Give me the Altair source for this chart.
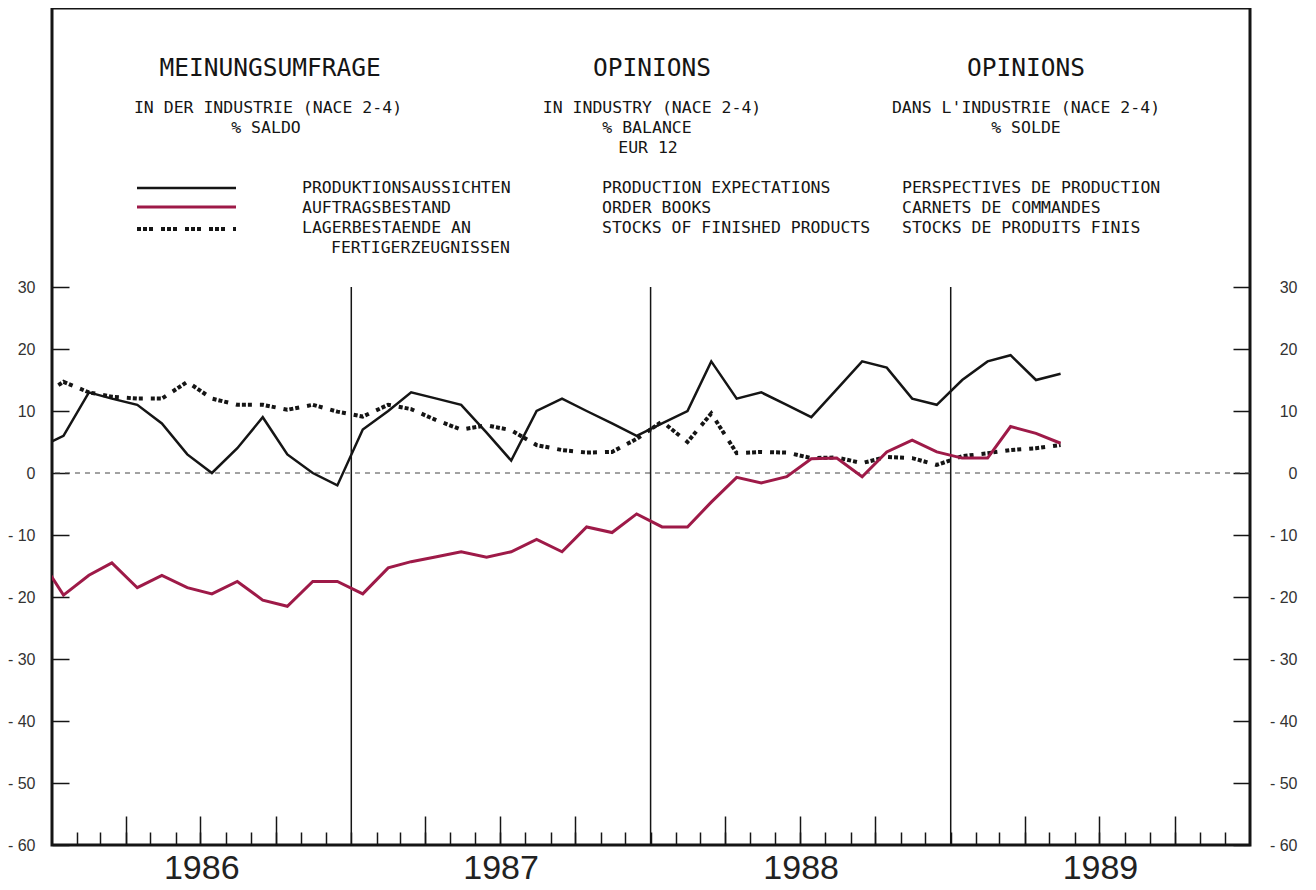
import altair as alt
import pandas as pd

# ---------------- data (monthly, mid-month; Dec 1985 is clipped at the frame) -------------
years_months = [(1985, 12)] + [(y, m) for y in (1986, 1987, 1988) for m in range(1, 13)] + [(1989, m) for m in range(1, 6)]
dates = [f"{y}-{m:02d}-15T00:00:00" for y, m in years_months]

production = [4,
              6, 13, 12, 11, 8, 3, 0, 4, 9, 3, 0, -2,
              7, 10, 13, 12, 11, 6.5, 2, 10, 12, 10, 8, 6,
              8, 10, 18, 12, 13, 11, 9, 13.5, 18, 17, 12, 11,
              15, 18, 19, 15, 16]
order_books = [-13.3,
               -19.7, -16.5, -14.5, -18.5, -16.5, -18.5, -19.5, -17.5, -20.5, -21.5, -17.5, -17.5,
               -19.5, -15.3, -14.3, -13.5, -12.7, -13.6, -12.7, -10.7, -12.7, -8.7, -9.6, -6.6,
               -8.7, -8.7, -4.7, -0.7, -1.6, -0.6, 2.3, 2.4, -0.6, 3.4, 5.3, 3.4,
               2.4, 2.4, 7.5, 6.4, 4.8]
stocks = [12.1,
          14.7, 13, 12.3, 12, 12, 14.7, 12, 11, 11, 10.2, 11, 9.9,
          9.1, 11, 10.3, 8.5, 7, 7.7, 6.9, 4.5, 3.7, 3.3, 3.4, 5.5,
          8.3, 5, 9.6, 3.2, 3.4, 3.3, 2.4, 2.5, 1.6, 2.6, 2.4, 1.3,
          2.7, 3.2, 3.7, 4, 4.5]

y_ticks = [-60, -50, -40, -30, -20, -10, 0, 10, 20, 30]
year_list = [1986, 1987, 1988, 1989]
divider_years = ["1987-01-01T00:00:00", "1988-01-01T00:00:00", "1989-01-01T00:00:00"]

titles = ["MEINUNGSUMFRAGE", "OPINIONS", "OPINIONS"]
subtitles_de = ["IN DER INDUSTRIE (NACE 2-4)", "% SALDO"]
subtitles_en = ["IN INDUSTRY (NACE 2-4)", "% BALANCE", "EUR 12"]
subtitles_fr = ["DANS L'INDUSTRIE (NACE 2-4)", "% SOLDE"]
legend_de = ["PRODUKTIONSAUSSICHTEN", "AUFTRAGSBESTAND", "LAGERBESTAENDE AN", "FERTIGERZEUGNISSEN"]
legend_en = ["PRODUCTION EXPECTATIONS", "ORDER BOOKS", "STOCKS OF FINISHED PRODUCTS"]
legend_fr = ["PERSPECTIVES DE PRODUCTION", "CARNETS DE COMMANDES", "STOCKS DE PRODUITS FINIS"]

df = pd.DataFrame({"date": dates, "prod": production, "orders": order_books, "stocks": stocks})
div_df = pd.DataFrame({"date": divider_years})
zero_df = pd.DataFrame({"v": [0]})

# ---------------- styling -------------
RED = "#9e1a48"
INK = "#151515"
MONO = "DejaVu Sans Mono"
SANS = "Liberation Sans"
STOCK_DASH = [4, 2, 4, 2, 4, 8]
X0, Y0 = 52, 8  # page position of plot origin

x_dom = [alt.DateTime(year=1986, month=1, date=1), alt.DateTime(year=1990, month=1, date=1)]
xscale = alt.Scale(domain=x_dom)
yscale = alt.Scale(domain=[-60, 75], nice=False, zero=False)

month_vals = [alt.DateTime(year=y, month=m, date=1) for y in year_list for m in range(1, 13)][1:]
quarter_vals = [alt.DateTime(year=y, month=m, date=1) for y in year_list for m in (4, 7, 10)]
year_label_vals = [alt.DateTime(year=y, month=7, date=2) for y in year_list]

axis_common = dict(grid=False, domain=False, tickColor=INK, tickWidth=1.5)

left_axis = alt.Axis(orient="left", values=y_ticks, offset=-17, tickSize=17, labelPadding=17,
                     labelFont=SANS, labelFontSize=16, labelColor="#333",
                     labelExpr="datum.value < 0 ? '- ' + abs(datum.value) : datum.label",
                     title=None, **axis_common)
right_axis = alt.Axis(orient="right", values=y_ticks, offset=-17, tickSize=17, labelPadding=47,
                      labelAlign="right", labelFont=SANS, labelFontSize=16, labelColor="#333",
                      labelExpr="datum.value < 0 ? '- ' + abs(datum.value) : datum.label",
                      title=None, **axis_common)
month_axis = alt.Axis(orient="bottom", values=month_vals, offset=-13, tickSize=13, labels=False,
                      title=None, **axis_common)
quarter_axis = alt.Axis(orient="bottom", values=quarter_vals, offset=-29, tickSize=29, labels=False,
                        title=None, **axis_common)
year_axis = alt.Axis(orient="bottom", values=year_label_vals, ticks=False, format="%Y",
                     labelFont=SANS, labelFontSize=34, labelColor="#222", labelPadding=6,
                     title=None, grid=False, domain=False)

base = alt.Chart(df)

prod_line = base.mark_line(color=INK, strokeWidth=2.5, clip=True).encode(
    x=alt.X("date:T", scale=xscale, axis=month_axis),
    y=alt.Y("prod:Q", scale=yscale, axis=left_axis),
)
orders_line = base.mark_line(color=RED, strokeWidth=3, clip=True).encode(
    x=alt.X("date:T", scale=xscale, axis=quarter_axis),
    y=alt.Y("orders:Q", scale=yscale, axis=right_axis),
)
stocks_line = base.mark_line(color=INK, strokeWidth=4, strokeDash=STOCK_DASH, strokeCap="butt", clip=True).encode(
    x=alt.X("date:T", scale=xscale, axis=year_axis),
    y=alt.Y("stocks:Q", scale=yscale, axis=None),
)

zero_rule = alt.Chart(zero_df).mark_rule(color="#444", strokeWidth=1, strokeDash=[5, 5]).encode(
    y=alt.Y("v:Q", scale=yscale, axis=None)
)
year_rules = alt.Chart(div_df).mark_rule(color=INK, strokeWidth=1.5).encode(
    x=alt.X("date:T", scale=xscale, axis=None),
    y=alt.YDatum(30, scale=yscale, axis=None),
    y2=alt.Y2Datum(-60),
)

layers = [zero_rule, year_rules, stocks_line, orders_line, prod_line]


def txt(text, px, py, size=16.5, align="left", font=MONO, weight="normal"):
    return alt.Chart(zero_df).mark_text(
        text=text, font=font, fontSize=size, align=align, baseline="middle",
        color=INK, fontWeight=weight,
    ).encode(x=alt.value(px - X0), y=alt.value(py - Y0))


SUB = 16.5
# titles
for t, cx in zip(titles, [270, 652, 1026]):
    layers.append(txt(t, cx, 69, size=24.5, align="center"))
# subtitles
for t, cx, cy in zip(subtitles_de, [268, 266], [108, 128]):
    layers.append(txt(t, cx, cy, size=SUB, align="center"))
for t, cx, cy in zip(subtitles_en, [652, 647, 648], [108, 128, 148]):
    layers.append(txt(t, cx, cy, size=SUB, align="center"))
for t, cx, cy in zip(subtitles_fr, [1026, 1026], [108, 128]):
    layers.append(txt(t, cx, cy, size=SUB, align="center"))
# legend texts
for t, lx, ly in zip(legend_de, [302, 302, 302, 331], [188, 208, 228, 248]):
    layers.append(txt(t, lx, ly, size=SUB))
for t, ly in zip(legend_en, [188, 208, 228]):
    layers.append(txt(t, 602, ly, size=SUB))
for t, ly in zip(legend_fr, [188, 208, 228]):
    layers.append(txt(t, 902, ly, size=SUB))

# legend line samples
def legend_rule(py, **kw):
    return alt.Chart(zero_df).mark_rule(**kw).encode(
        x=alt.value(137 - X0), x2=alt.value(236 - X0), y=alt.value(py - Y0)
    )

layers.append(legend_rule(188, color=INK, strokeWidth=2.5))
layers.append(legend_rule(207, color=RED, strokeWidth=3))
layers.append(legend_rule(229, color=INK, strokeWidth=4, strokeDash=STOCK_DASH, strokeCap="butt"))

chart = alt.layer(*layers).resolve_axis(x="independent", y="independent").properties(
    width=1198, height=837,
    autosize=alt.AutoSizeParams(type="none"),
    padding={"left": 44, "top": 0, "right": 58, "bottom": 44},
    background="white",
).configure_view(stroke=INK, strokeWidth=3)

chart.save("out.html", embed_options={"renderer": "svg", "actions": False})
